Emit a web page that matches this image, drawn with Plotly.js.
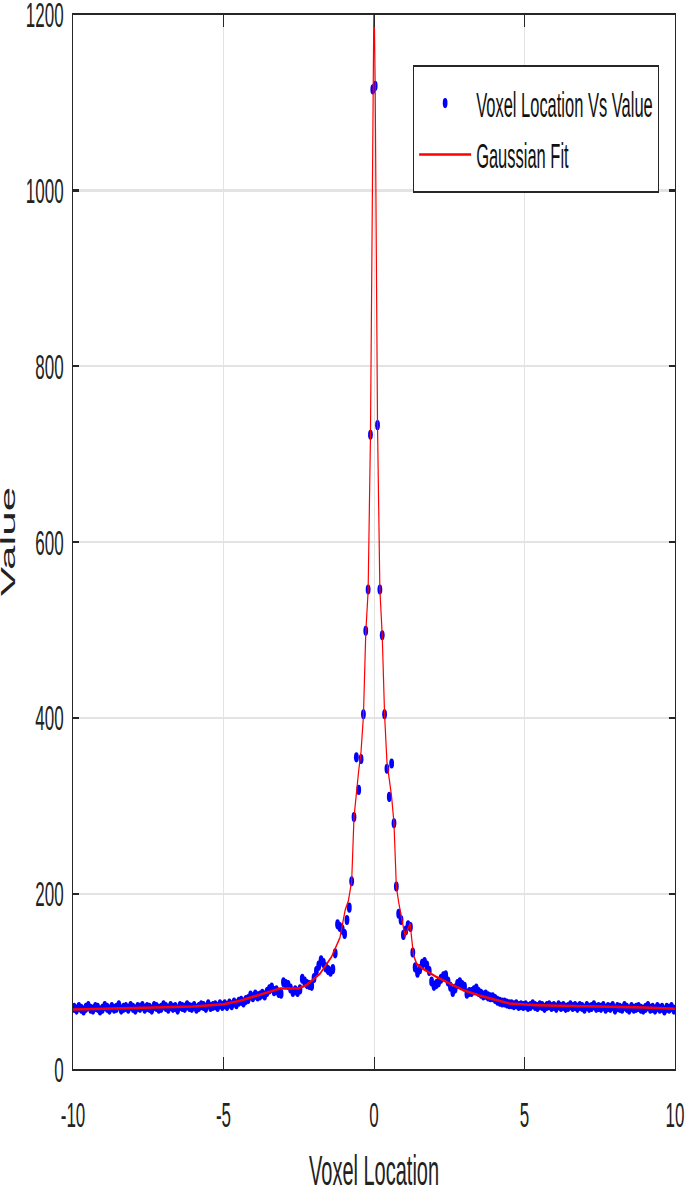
<!DOCTYPE html>
<html>
<head>
<meta charset="utf-8">
<script src="https://cdn.plot.ly/plotly-3.0.1.min.js"></script>
<style>
  html, body { margin: 0; padding: 0; background: #fff; overflow: hidden; }
  #wrap { width: 685px; height: 1187px; overflow: hidden; }
  /* the source figure was stretched vertically, so the whole chart is drawn flat and scaled */
  #chart { width: 685px; height: 565px; transform: scaleY(2.1009); transform-origin: 0 0; }
</style>
</head>
<body>
<div id="wrap"><div id="chart"></div></div>
<script>
// voxel grid: 256 samples, evenly spaced
const voxelStart = -9.9609375;
const voxelStep = 0.078125;

// measured values, one per voxel, left to right
const voxelValues = [
  70, 68, 71, 69, 67, 70, 72, 69, 68, 71, 70, 67, 69, 72, 70, 68,
  71, 69, 70, 73, 68, 70, 71, 69, 72, 70, 68, 71, 70, 72, 69, 71,
  70, 68, 72, 71, 69, 70, 73, 71, 69, 72, 70, 71, 68, 72, 71, 70,
  73, 71, 70, 72, 69, 71, 73, 72, 70, 74, 71, 72, 73, 71, 74, 72,
  74, 72, 75, 73, 76, 74, 77, 78, 76, 79, 80, 84, 82, 85, 83, 84,
  86, 84, 88, 91, 93, 89, 90, 87, 86, 99, 97, 96, 92, 88, 90, 88,
  91, 103, 100, 97, 96, 95, 104, 112, 118, 124, 121, 116, 113, 111, 114, 132,
  165, 162, 159, 154, 170, 184, 214, 287, 355, 318, 353, 404, 499, 546, 722, 1115,
  1119, 733, 546, 494, 404, 342, 310, 348, 280, 208, 177, 170, 153, 158, 164, 162,
  133, 116, 110, 114, 120, 122, 118, 112, 100, 95, 97, 99, 103, 106, 107, 100,
  94, 88, 92, 97, 99, 96, 94, 86, 88, 88, 90, 92, 88, 86, 84, 85,
  83, 82, 82, 80, 78, 77, 76, 76, 75, 74, 74, 73, 74, 72, 73, 72,
  73, 71, 72, 74, 72, 71, 73, 72, 70, 72, 73, 71, 72, 70, 73, 71,
  72, 70, 71, 73, 71, 72, 70, 72, 71, 69, 72, 70, 71, 73, 70, 71,
  70, 72, 69, 71, 70, 72, 68, 71, 70, 69, 72, 70, 68, 71, 69, 70,
  71, 69, 68, 70, 72, 69, 70, 68, 71, 69, 70, 67, 70, 69, 71, 68
];

// fitted curve
const fitX = [-10, -9, -8, -7, -6, -5, -4.45, -3.79, -3.12, -2.51, -2.24, -1.79, -1.41, -1.13,
  -0.96, -0.85, -0.742, -0.664, -0.586, -0.508, -0.43, -0.351, -0.273, -0.195, -0.117, -0.039,
  0, 0.039, 0.117, 0.195, 0.273, 0.351, 0.43, 0.508, 0.586, 0.664, 0.742, 0.82, 0.92, 1.03,
  1.2, 1.31, 1.42, 1.6, 2.08, 2.5, 2.97, 3.5, 4.0, 4.5, 5.4, 6.5, 7.6, 9, 10];
const fitY = [68, 68.5, 69.5, 70.5, 71.5, 74, 78, 85, 92, 92, 96, 109, 128, 150,
  181, 192, 214, 287, 318, 340, 362, 402, 497, 544, 722, 1115,
  1230, 1119, 733, 546, 494, 404, 350, 330, 310, 280, 208, 190, 170, 152,
  166, 130, 120, 115, 105, 98, 90, 84, 79, 75, 73, 72.5, 72, 70.5, 69];

const xTicks = [-10, -5, 0, 5, 10];
const xTickText = ['-10', '-5', '0', '5', '10'];
const yTicks = [0, 200, 400, 600, 800, 1000, 1200];

const axisColor = '#262626';
const gridColor = '#e3e3e3';
const font = 'Liberation Sans, Arial, Helvetica, sans-serif';

const traces = [
  {
    type: 'scatter',
    mode: 'markers',
    name: 'Voxel Location Vs Value',
    x0: voxelStart,
    dx: voxelStep,
    y: voxelValues,
    marker: { color: '#0000ff', size: 4.8 }
  },
  {
    type: 'scatter',
    mode: 'lines',
    name: 'Gaussian Fit',
    x: fitX,
    y: fitY,
    line: { color: '#ff0000', width: 1.2 }
  }
];

const axisBase = {
  showline: true,
  linecolor: axisColor,
  linewidth: 1,
  mirror: 'ticks',
  ticks: 'inside',
  ticklen: 6,
  tickcolor: axisColor,
  showgrid: true,
  gridcolor: gridColor,
  gridwidth: 1,
  zeroline: false,
  ticklabeloverflow: 'allow',
  tickfont: { family: font, size: 17, color: '#222' }
};

const layout = {
  width: 685,
  height: 565,
  margin: { l: 73, r: 10, t: 7, b: 56 },
  paper_bgcolor: '#fff',
  plot_bgcolor: '#fff',
  showlegend: true,
  legend: {
    x: 0.565, y: 0.9525, xanchor: 'left', yanchor: 'top',
    bgcolor: '#fff', bordercolor: axisColor, borderwidth: 1,
    itemwidth: 52,
    font: { family: font, size: 16.5, color: '#111' }
  },
  xaxis: {
    ...axisBase,
    range: [-10, 10],
    tickvals: xTicks,
    ticktext: xTickText,
    ticklabelstandoff: 6
  },
  yaxis: {
    ...axisBase,
    range: [0, 1200],
    tickvals: yTicks,
    ticklabelstandoff: 5
  },
  annotations: [
    {
      text: 'Voxel Location', xref: 'paper', yref: 'paper', x: 0.5, y: -0.096,
      xanchor: 'center', yanchor: 'middle', showarrow: false,
      font: { family: font, size: 20, color: '#222' }
    },
    {
      text: 'Value', xref: 'paper', yref: 'paper', x: -0.11, y: 0.5,
      xanchor: 'center', yanchor: 'middle', textangle: -90, showarrow: false,
      font: { family: font, size: 21, color: '#222' }
    }
  ]
};

Plotly.newPlot('chart', traces, layout, { displayModeBar: false, responsive: false });
</script>
</body>
</html>
